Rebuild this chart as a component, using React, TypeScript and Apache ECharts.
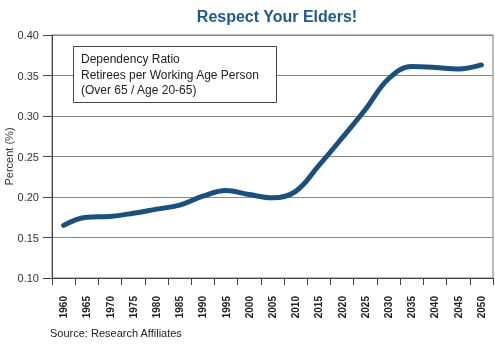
import React, { useEffect, useRef } from "react";
import * as echarts from "echarts";

const years = ["1960","1965","1970","1975","1980","1985","1990","1995","2000","2005","2010","2015","2020","2025","2030","2035","2040","2045","2050"];
const ratio = [0.165,0.175,0.176,0.180,0.185,0.190,0.201,0.208,0.203,0.199,0.207,0.239,0.273,0.308,0.346,0.361,0.360,0.358,0.363];
const yTicks = { min: 0.1, max: 0.4, interval: 0.05 };
const titleText = "Respect Your Elders!";
const noteLines = ["Dependency Ratio", "Retirees per Working Age Person", "(Over 65 / Age 20-65)"];
const sourceText = "Source: Research Affiliates";

export default function App() {
  const ref = useRef<HTMLDivElement>(null);
  useEffect(() => {
    const chart = echarts.init(ref.current!, null, { renderer: "svg" });
    const font = "Liberation Sans, Arial, Helvetica, sans-serif";
    chart.setOption({
      animation: false,
      textStyle: { fontFamily: font },
      title: {
        text: titleText,
        left: 272,
        textAlign: "center",
        top: 3,
        textStyle: { fontSize: 16, fontWeight: "bold", color: "#1d5a8c", fontFamily: font },
      },
      grid: {
        left: 52, right: 2, top: 35, bottom: 66,
        containLabel: false,
        outerBoundsMode: "none",
        show: true, borderColor: "#777", borderWidth: 1,
      },
      xAxis: {
        type: "category",
        data: years,
        boundaryGap: true,
        axisLine: { lineStyle: { color: "#444", width: 1 } },
        axisTick: { show: true, length: 7, lineStyle: { color: "#444" } },
        axisLabel: { rotate: 90, margin: 18, fontSize: 10, fontWeight: "bold", color: "#222", fontFamily: font },
        splitLine: { show: false },
      },
      yAxis: {
        type: "value",
        min: yTicks.min, max: yTicks.max, interval: yTicks.interval,
        name: "Percent (%)",
        nameLocation: "middle",
        nameGap: 38,
        nameMoveOverlap: false,
        nameTextStyle: { fontSize: 11, color: "#333", fontFamily: font },
        axisLine: { show: true, lineStyle: { color: "#444", width: 1 } },
        axisTick: { show: true, length: 9, lineStyle: { color: "#444" } },
        axisLabel: { formatter: (v: number) => v.toFixed(2), fontSize: 11, color: "#333", margin: 13, fontFamily: font },
        splitLine: { show: true, lineStyle: { color: "#888", width: 1 } },
      },
      graphic: [
        {
          type: "rect",
          shape: { x: 73.5, y: 46.5, width: 203, height: 56 },
          style: { fill: "#fff", stroke: "#444", lineWidth: 1 },
          z: 10,
        },
        ...noteLines.map((t, i) => ({
          type: "text",
          x: 81,
          y: 53 + i * 15.5,
          style: { text: t, fontSize: 12, fill: "#222", fontFamily: font },
          z: 11,
        })),
        {
          type: "text",
          x: 50,
          y: 327,
          style: { text: sourceText, fontSize: 11, fill: "#222", fontFamily: font },
        },
      ],
      series: [
        {
          type: "line",
          data: ratio,
          smooth: 0.4,
          symbol: "none",
          lineStyle: { color: "#1b4f7c", width: 5, cap: "round" },
          z: 5,
        },
      ],
    });
    return () => chart.dispose();
  }, []);
  return <div ref={ref} style={{ position: "fixed", left: 0, top: 0, width: 495, height: 344 }} />;
}
